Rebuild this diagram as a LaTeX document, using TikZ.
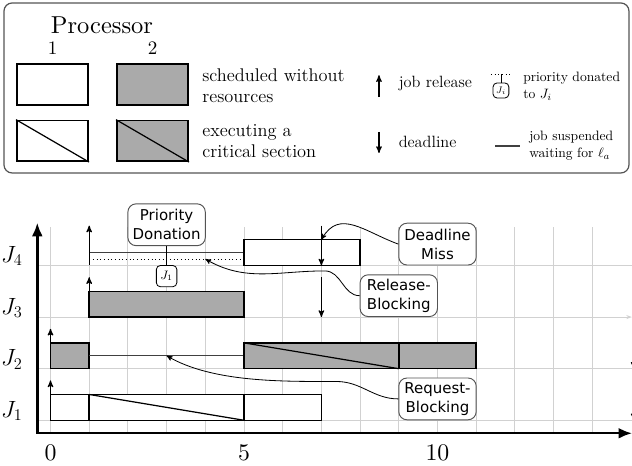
\documentclass[tikz,border=0pt]{standalone}
\usepackage{amsmath}
\usepackage{graphicx}
\usepackage{fontspec}
\newfontfamily\calloutfont{DejaVu Sans}
\usepackage{tikz}
\usetikzlibrary{arrows}
\usetikzlibrary{arrows.meta}
\definecolor{jobgray}{gray}{0.667}
\definecolor{gridgray}{gray}{0.82}
\definecolor{boxborder}{gray}{0.33}
\tikzstyle{guide} = [gridgray,line width=0.6pt]
\tikzstyle{axis} = [line width=1.8pt,{Latex[length=10pt,width=8pt]}-{Latex[length=10pt,width=8pt]}]
\tikzstyle{jobbox} = [draw,line width=1.1pt]
\tikzstyle{legbox} = [draw,line width=1.3pt,minimum width=1.84cm,minimum height=1.05cm,inner sep=0pt]
\tikzstyle{crit} = [line width=0.9pt]
\tikzstyle{suspend} = [line width=0.8pt,black!75]
\tikzstyle{donated} = [dotted,line width=0.7pt]
\tikzstyle{relarrow} = [->,line width=0.8pt]
\tikzstyle{callout} = [draw=boxborder,fill=white,rounded corners=6pt,line width=0.7pt,align=center,
                       minimum width=2cm,minimum height=1.08cm,inner sep=1pt,
                       font=\calloutfont\fontsize{11}{14}\selectfont]
\tikzstyle{donor} = [draw,fill=white,rounded corners=3pt,line width=0.6pt,minimum width=0.53cm,
                     minimum height=0.55cm,inner sep=0pt]
\tikzstyle{connector} = [->,line width=0.6pt]
\tikzstyle{legtext} = [anchor=west,align=left,inner sep=0pt]

\begin{document}
\begin{tikzpicture}[scale=1, auto, >=stealth']
    \useasboundingbox (-1.305,-1.181) rectangle (15.026,10.860);
    % legend
    \draw[boxborder,line width=0.9pt,rounded corners=6pt] (-1.202,6.390) rectangle (14.948,10.783);
    \node (proc) at (1.331,10.215) {\scalebox{1.8}{Processor}};
    \node (cpu1) at (0.052,9.621) {\scalebox{1.4}{1}};
    \node (cpu2) at (2.636,9.621) {\scalebox{1.4}{2}};
    \node[legbox] (sched1) at (0.052,8.672) {};
    \node[legbox,fill=jobgray] (sched2) at (2.636,8.672) {};
    \node[legbox] (crit1) at (0.052,7.220) {};
    \node[legbox,fill=jobgray] (crit2) at (2.636,7.220) {};
    \draw[crit] (crit1.north west) -- (crit1.south east);
    \draw[crit] (crit2.north west) -- (crit2.south east);
    \node[legtext,font=\fontsize{13.5}{15.5}\selectfont] (schedtxt) at (3.915,8.650) {scheduled without\\resources};
    \node[legtext,font=\fontsize{13.5}{15.5}\selectfont] (crittxt) at (3.915,7.220) {executing a\\critical section};
    \draw[relarrow] (8.488,8.349) -- (8.488,8.917);
    \node[legtext,font=\fontsize{12}{14}\selectfont] (reltxt) at (8.992,8.690) {job release};
    \draw[relarrow] (8.488,7.450) -- (8.488,6.907);
    \node[legtext,font=\fontsize{12}{14}\selectfont] (dltxt) at (8.992,7.190) {deadline};
    \draw[donated] (11.382,8.948) -- (11.899,8.948);
    \node[donor,minimum width=0.41cm,minimum height=0.39cm] (donleg) at (11.640,8.522) {\fontsize{7}{8}\selectfont $J_i$};
    \draw[line width=0.6pt] (donleg.north) -- ++(0,0.231);
    \node[legtext,font=\fontsize{10}{12.5}\selectfont] (dontxt) at (12.209,8.625) {priority donated\\to $J_i$};
    \draw[suspend] (11.486,7.088) -- (12.132,7.088);
    \node[legtext,font=\fontsize{10}{12.5}\selectfont] (sustxt) at (12.364,7.088) {job suspended\\waiting for $\ell_a$};

    % grid and axes
    \foreach \t in {0,...,14} \draw[guide] (\t,-0.336) -- (\t,5.0);
    \foreach \y in {0,1.333,4} \draw[guide] (-0.341,\y) -- (15.05,\y);
    \draw[guide,-{Stealth[length=4pt,width=3pt]}] (-0.341,2.667) -- (15.02,2.667);
    \draw[axis] (-0.341,5.106) -- (-0.341,-0.336) -- (15.03,-0.336);
    \foreach \t in {0,5,10} \node (tick\t) at (\t,-0.837) {\scalebox{1.75}{\t}};
    \foreach \j/\y in {1/0,2/1.333,3/2.667,4/4}
      \node[anchor=east,font=\fontsize{17}{19}\selectfont] (lab\j) at (-0.6,\y+0.24) {$J_\j$};

    % J1
    \filldraw[jobbox,fill=white] (0,0) rectangle (1,0.667);
    \filldraw[jobbox,fill=white] (1,0) rectangle (5,0.667);
    \draw[crit] (1,0.667) -- (5,0);
    \filldraw[jobbox,fill=white] (5,0) rectangle (7,0.667);
    % J2
    \filldraw[jobbox,fill=jobgray] (0,1.333) rectangle (1,2);
    \draw[suspend] (1,1.667) -- (5,1.667);
    \filldraw[jobbox,fill=jobgray] (5,1.333) rectangle (9,2);
    \draw[crit] (5,2) -- (9,1.333);
    \filldraw[jobbox,fill=jobgray] (9,1.333) rectangle (11,2);
    % J3
    \filldraw[jobbox,fill=jobgray] (1,2.667) rectangle (5,3.333);
    % J4
    \draw[suspend] (1,4.333) -- (5,4.333);
    \draw[donated] (1,4.167) -- (5,4.167);
    \filldraw[jobbox,fill=white] (5,4) rectangle (8,4.667);

    % releases and deadlines
    \foreach \t/\y in {0/0,0/1.333,1/2.667,1/4} \draw[relarrow] (\t,\y) -- ++(0,1.03);
    \foreach \t/\y in {15.07/0,15.07/1.333,7/2.667,7/4} \draw[relarrow] (\t,\y+1.03) -- (\t,\y);

    % callouts
    \node[callout,anchor=south] (pdon) at (3,4.5) {Priority\\Donation};
    \node[donor] (don1) at (3,3.725) {\fontsize{9}{10}\selectfont $J_1$};
    \node[callout,anchor=south] (dlmiss) at (10,4) {Deadline\\Miss};
    \node[callout,anchor=south] (relblock) at (9,2.667) {Release-\\Blocking};
    \node[callout,anchor=south] (reqblock) at (10,0) {Request-\\Blocking};
    \coordinate (dl4) at (7,4.667);
    \coordinate (don4) at (4,4.167);
    \coordinate (sus2) at (3,1.667);

    % now link the nodes
    \draw [line width=0.6pt] (pdon) -- (don1);
    \draw [connector] (dlmiss.west) to[out=160,in=60,looseness=1.2] (dl4);
    \draw [connector] (relblock.west) to[out=180,in=0] ++(-0.9,0.64) to[out=180,in=-30] (don4);
    \draw [connector] (reqblock.west) to[out=180,in=0] ++(-1.6,0.45) to[out=180,in=-30,looseness=0.8] (sus2);
\end{tikzpicture}
\end{document}
